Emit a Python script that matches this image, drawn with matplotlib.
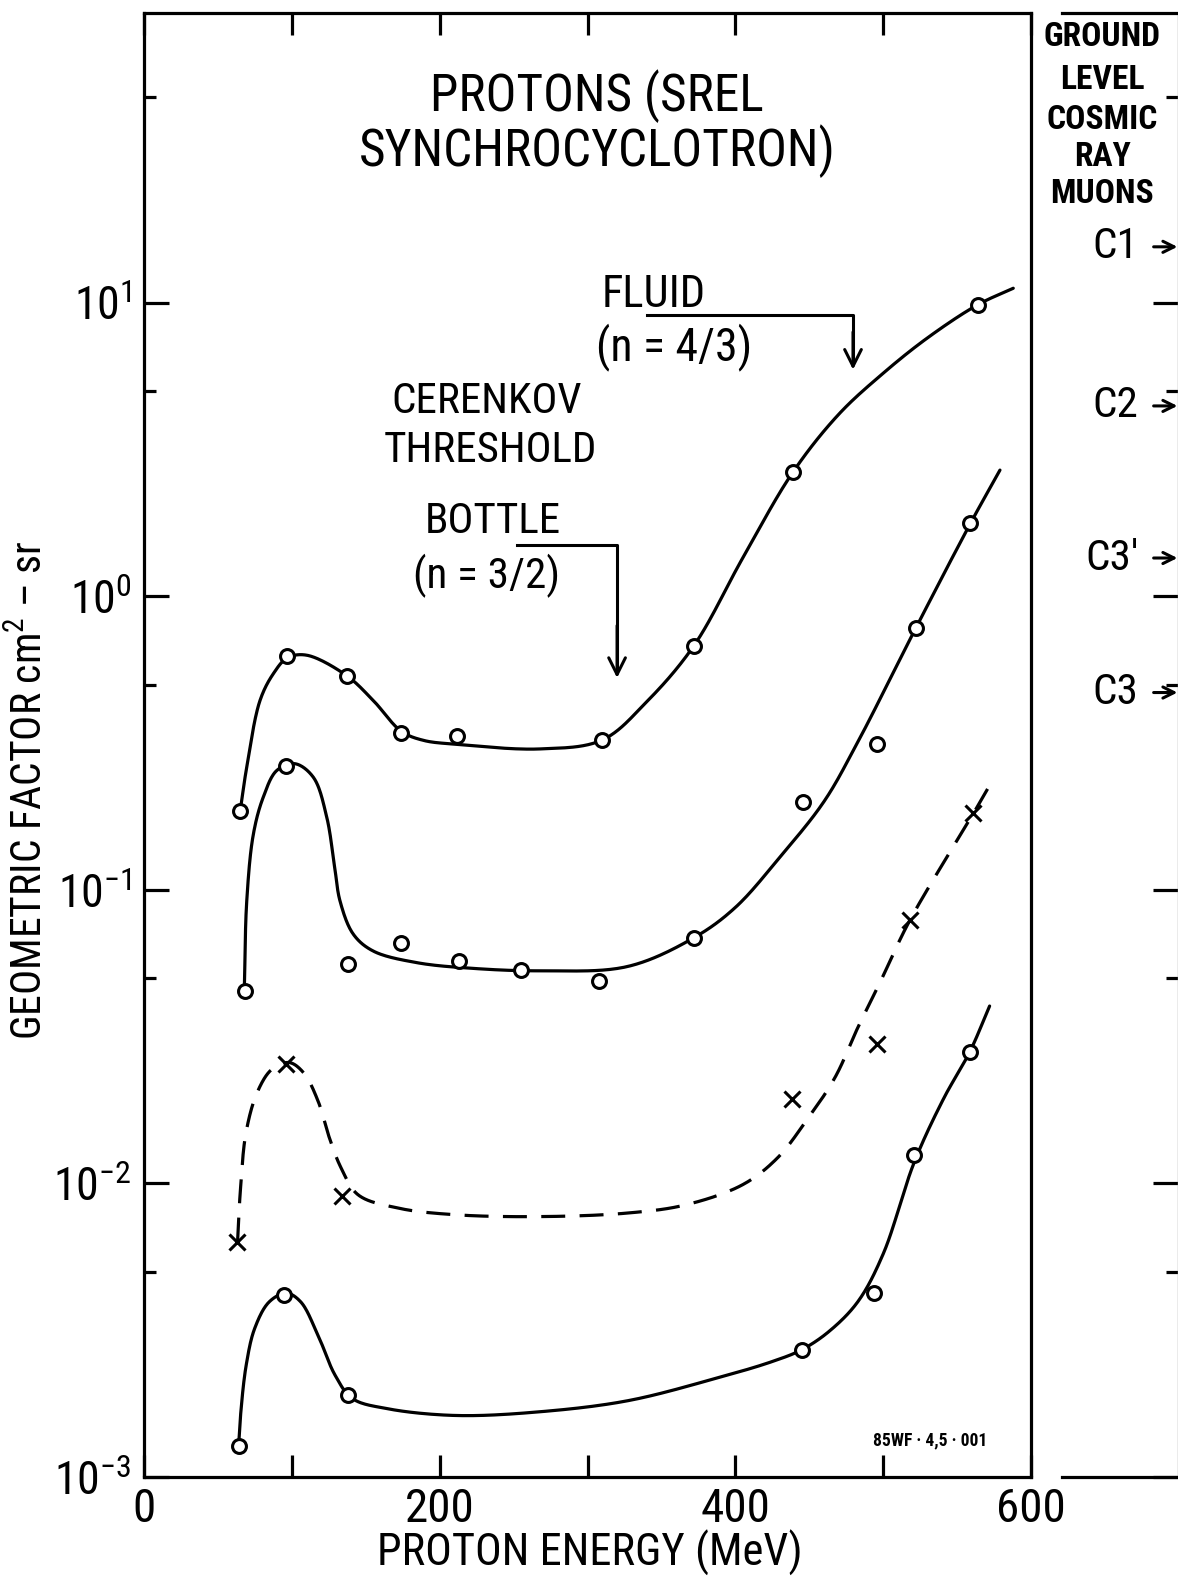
import numpy as np
import matplotlib
matplotlib.use("Agg")
import matplotlib.pyplot as plt
import matplotlib.font_manager as fm

# ---------------- data ----------------
# measured points: proton energy (MeV) vs geometric factor (cm^2 sr)
c1_mev = [65, 97, 137, 174, 212, 310, 372, 439, 564]
c1_gf = [0.185, 0.624, 0.537, 0.341, 0.333, 0.324, 0.679, 2.65, 9.84]

c2_mev = [68, 96, 138, 174, 213, 255, 308, 372, 446, 496, 522, 559]
c2_gf = [0.0452, 0.264, 0.056, 0.066, 0.0573, 0.0532, 0.049, 0.0687,
         0.1995, 0.313, 0.778, 1.77]

c3_mev = [63, 96, 134, 438, 496, 518, 561]
c3_gf = [0.00634, 0.0255, 0.00904, 0.0194, 0.0298, 0.0787, 0.182]

c4_mev = [64, 95, 138, 445, 494, 521, 558.5]
c4_gf = [0.00128, 0.00418, 0.0019, 0.00271, 0.00422, 0.01248, 0.028]

# hand-drawn smooth curves
fit1_mev = [65, 69.5, 78.5, 87.5, 97, 110, 137, 155, 174, 189, 212, 268,
            310, 340, 372, 405, 439, 470, 500, 530, 564, 588]
fit1_gf = [0.1845, 0.262, 0.442, 0.545, 0.617, 0.630, 0.537, 0.442, 0.347,
           0.323, 0.313, 0.302, 0.324, 0.437, 0.679, 1.35, 2.65, 4.17,
           5.75, 7.59, 9.84, 11.2]

fit2_mev = [67.9, 69.5, 74, 80.7, 89.8, 102, 114.5, 123.6, 129, 132.6,
            141.6, 155, 184.5, 222.8, 268, 327, 372, 400, 430, 460, 482,
            522, 559, 579]
fit2_gf = [0.0468, 0.0916, 0.155, 0.207, 0.255, 0.269, 0.242, 0.177, 0.119,
           0.0916, 0.0706, 0.0619, 0.0565, 0.0540, 0.0530, 0.0548, 0.0687,
           0.0871, 0.129, 0.200, 0.313, 0.778, 1.77, 2.69]

fit3_mev = [63.3, 65.3, 69.1, 76.9, 86.6, 98.3, 108, 117.7, 125.4, 133.3,
            144.9, 172, 210.9, 269, 327.5, 366.3, 405.1, 428.4, 447.8,
            467.3, 482.8, 498.3, 518, 561, 574.6]
fit3_gf = [0.00634, 0.00964, 0.0150, 0.0206, 0.0245, 0.0258, 0.0238, 0.0191,
           0.0143, 0.0113, 0.00914, 0.00824, 0.00782, 0.00771, 0.00793,
           0.00845, 0.00991, 0.0122, 0.0163, 0.0229, 0.0339, 0.0489, 0.0787,
           0.182, 0.239]

fit4_mev = [64, 65.3, 69.1, 74.9, 84.7, 96.3, 106, 117.7, 129.3, 141, 164.3,
            210.9, 269, 327.5, 385.7, 424.6, 444.7, 463.3, 482.8, 500, 521,
            541, 558.5, 572]
fit4_gf = [0.00128, 0.00162, 0.00240, 0.00321, 0.00395, 0.00423, 0.00395,
           0.00304, 0.00222, 0.00185, 0.00171, 0.00162, 0.00167, 0.00182,
           0.00216, 0.00247, 0.00271, 0.00313, 0.00395, 0.00575, 0.0118,
           0.0195, 0.0280, 0.0402]

x_major = [0, 200, 400, 600]
x_minor = [100, 300, 500]
y_major = [1e-3, 1e-2, 1e-1, 1, 10]
y_major_labels = ["$10^{-3}$", "$10^{-2}$", "$10^{-1}$", "$10^{0}$", "$10^{1}$"]
y_minor = [5e-3, 5e-2, 5e-1, 5, 50]

muon_labels = ["C1", "C2", "C3\u2032", "C3"]
muon_levels = [15.5, 4.45, 1.35, 0.47]
muon_title = ["GROUND", "LEVEL", "COSMIC", "RAY", "MUONS"]

# ---------------- fonts ----------------
names = {f.name for f in fm.fontManager.ttflist}
dv_cond = any(f.name == "DejaVu Sans" and "condensed" in str(f.stretch)
              for f in fm.fontManager.ttflist)
if "Liberation Sans Narrow" in names:
    FONT, STRETCH, K = "Liberation Sans Narrow", "normal", 1.0
elif "Roboto Condensed" in names:
    FONT, STRETCH, K = "Roboto Condensed", "normal", 0.97
elif dv_cond:
    FONT, STRETCH, K = "DejaVu Sans", "condensed", 0.9
else:
    FONT, STRETCH, K = "Liberation Sans", "normal", 0.85

plt.rcParams["font.family"] = [FONT, "DejaVu Sans"]
plt.rcParams["font.stretch"] = STRETCH
plt.rcParams["mathtext.fontset"] = "custom"
plt.rcParams["mathtext.rm"] = FONT
plt.rcParams["mathtext.it"] = FONT
plt.rcParams["mathtext.bf"] = FONT
plt.rcParams["mathtext.default"] = "regular"


def fs(v):
    return v * K


# ---------------- smooth curve through traced knots ----------------
def smooth(mev, gf, n=24, alpha=0.5):
    P = np.column_stack([np.asarray(mev, float), np.log10(gf)])
    S = np.array([1.478, 293.5])  # roughly pixel units for centripetal param.
    Q = P * S
    Q = np.vstack([2 * Q[0] - Q[1], Q, 2 * Q[-1] - Q[-2]])
    out = []
    for i in range(1, len(Q) - 2):
        p0, p1, p2, p3 = Q[i - 1], Q[i], Q[i + 1], Q[i + 2]
        t0 = 0.0
        t1 = t0 + max(np.linalg.norm(p1 - p0), 1e-6) ** alpha
        t2 = t1 + max(np.linalg.norm(p2 - p1), 1e-6) ** alpha
        t3 = t2 + max(np.linalg.norm(p3 - p2), 1e-6) ** alpha
        t = np.linspace(t1, t2, n, endpoint=False)[:, None]
        A1 = (t1 - t) / (t1 - t0) * p0 + (t - t0) / (t1 - t0) * p1
        A2 = (t2 - t) / (t2 - t1) * p1 + (t - t1) / (t2 - t1) * p2
        A3 = (t3 - t) / (t3 - t2) * p2 + (t - t2) / (t3 - t2) * p3
        B1 = (t2 - t) / (t2 - t0) * A1 + (t - t0) / (t2 - t0) * A2
        B2 = (t3 - t) / (t3 - t1) * A2 + (t - t1) / (t3 - t1) * A3
        C = (t2 - t) / (t2 - t1) * B1 + (t - t1) / (t2 - t1) * B2
        out.append(C)
    out.append(Q[-2][None, :])
    R = np.vstack(out) / S
    return R[:, 0], 10 ** R[:, 1]


# ---------------- figure ----------------
W, H = 1178, 1583
fig = plt.figure(figsize=(W / 100, H / 100), dpi=100)

L, R_, T, B = 144, 1031, 13, 1477
ax = fig.add_axes([L / W, 1 - B / H, (R_ - L) / W, (B - T) / H])
axr = fig.add_axes([1062 / W, 1 - B / H, (W - 1062) / W, (B - T) / H])

LW = 2.3
for a in (ax, axr):
    a.set_yscale("log")
    a.set_ylim(1e-3, 97)
    for s in a.spines.values():
        s.set_linewidth(LW)

ax.set_xlim(0, 600)

# curves
for mev, gf in ((fit1_mev, fit1_gf), (fit2_mev, fit2_gf), (fit4_mev, fit4_gf)):
    xs, ys = smooth(mev, gf)
    ax.plot(xs, ys, color="black", lw=LW, solid_capstyle="round", zorder=2)
xs, ys = smooth(fit3_mev, fit3_gf)
ax.plot(xs, ys, color="black", lw=LW, dashes=(7.5, 4.5), zorder=2)

mk = dict(marker="o", ms=10, mfc="white", mec="black", mew=2.2, ls="none", zorder=3)
ax.plot(c1_mev, c1_gf, **mk)
ax.plot(c2_mev, c2_gf, **mk)
ax.plot(c4_mev, c4_gf, **mk)
ax.plot(c3_mev, c3_gf, marker="x", ms=11, mec="black", mew=2.2, ls="none", zorder=3)

# ticks, main axes
ax.set_xticks(x_major)
ax.set_xticklabels([str(v) for v in x_major])
ax.set_xticks(x_minor, minor=True)
ax.tick_params(axis="x", which="both", direction="in", top=True, bottom=True,
               length=16, width=LW, labelsize=fs(35), pad=7)
ax.set_yticks(y_major)
ax.set_yticklabels(y_major_labels)
ax.set_yticks(y_minor, minor=True)
ax.yaxis.set_minor_formatter(matplotlib.ticker.NullFormatter())
ax.tick_params(axis="y", which="major", direction="in", left=True, right=False,
               length=18, width=LW, labelsize=fs(34), pad=9)
ax.tick_params(axis="y", which="minor", direction="in", left=True, right=False,
               length=8.6, width=LW)

# right (muon) panel
axr.set_xticks([])
axr.spines["left"].set_visible(False)
axr.spines["right"].set_linewidth(1.0)
axr.spines["right"].set_color("#9a9a9a")
axr.set_yticks(y_major)
axr.set_yticks(y_minor, minor=True)
axr.yaxis.set_major_formatter(matplotlib.ticker.NullFormatter())
axr.yaxis.set_minor_formatter(matplotlib.ticker.NullFormatter())
axr.tick_params(axis="y", which="major", direction="in", left=False, right=True,
                labelleft=False, labelright=False, length=18, width=LW)
axr.tick_params(axis="y", which="minor", direction="in", left=False, right=True,
                labelleft=False, labelright=False, length=8.6, width=LW)

ytr = axr.get_yaxis_transform()
for lab, lev in zip(muon_labels, muon_levels):
    axr.text(0.66, lev, lab, transform=ytr, ha="right", va="center",
             fontsize=fs(32), clip_on=False)
    axr.annotate("", xy=(0.995, lev), xycoords=ytr, xytext=(0.79, lev),
                 textcoords=ytr, annotation_clip=False,
                 arrowprops=dict(arrowstyle="->", lw=2.2, color="black",
                                 mutation_scale=20, shrinkA=0, shrinkB=0))

title_y = [37, 80, 120, 157, 194]
for txt, yy in zip(muon_title, title_y):
    fig.text(1102 / W, 1 - yy / H, txt, ha="center", va="center",
             fontsize=fs(25), fontweight="bold")

# annotations in main panel
ax.text(306.5, 50.4, "PROTONS (SREL", ha="center", va="center", fontsize=fs(38))
ax.text(306.5, 32.7, "SYNCHROCYCLOTRON)", ha="center", va="center", fontsize=fs(38))

ax.text(309.8, 10 ** 1.027, "FLUID", ha="left", va="center", fontsize=fs(33))
ax.text(305.5, 10 ** 0.850, "(n = 4/3)", ha="left", va="center", fontsize=fs(34))
ax.plot([340.3, 479.6, 479.6], [10 ** 0.959, 10 ** 0.959, 10 ** 0.80],
        color="black", lw=2.2, zorder=2)
ax.annotate("", xy=(479.6, 10 ** 0.772), xytext=(479.6, 10 ** 0.90),
            arrowprops=dict(arrowstyle="->", lw=2.2, color="black",
                            mutation_scale=30, shrinkA=0, shrinkB=0))

ax.text(232, 10 ** 0.663, "CERENKOV", ha="center", va="center", fontsize=fs(32))
ax.text(234, 10 ** 0.496, "THRESHOLD", ha="center", va="center", fontsize=fs(32))
ax.text(236, 10 ** 0.254, "BOTTLE", ha="center", va="center", fontsize=fs(32))
ax.text(232, 10 ** 0.070, "(n = 3/2)", ha="center", va="center", fontsize=fs(32))
ax.plot([252.3, 320, 320], [10 ** 0.1755, 10 ** 0.1755, 10 ** -0.25],
        color="black", lw=2.2, zorder=2)
ax.annotate("", xy=(320, 10 ** -0.278), xytext=(320, 10 ** -0.10),
            arrowprops=dict(arrowstyle="->", lw=2.2, color="black",
                            mutation_scale=30, shrinkA=0, shrinkB=0))

ax.text(531.7, 0.001337, "85WF \u00b7 4,5 \u00b7 001", ha="center", va="center",
        fontsize=fs(13), fontweight="bold")

# axis titles
fig.text(590 / W, 1 - 1553 / H, "PROTON ENERGY (MeV)", ha="center", va="center",
         fontsize=fs(33))
fig.text(30 / W, 1 - 790 / H, "GEOMETRIC FACTOR cm$^{2}$ \u2013 sr", ha="center",
         va="center", rotation=90, fontsize=fs(31))

fig.savefig("out.png", dpi=100)
